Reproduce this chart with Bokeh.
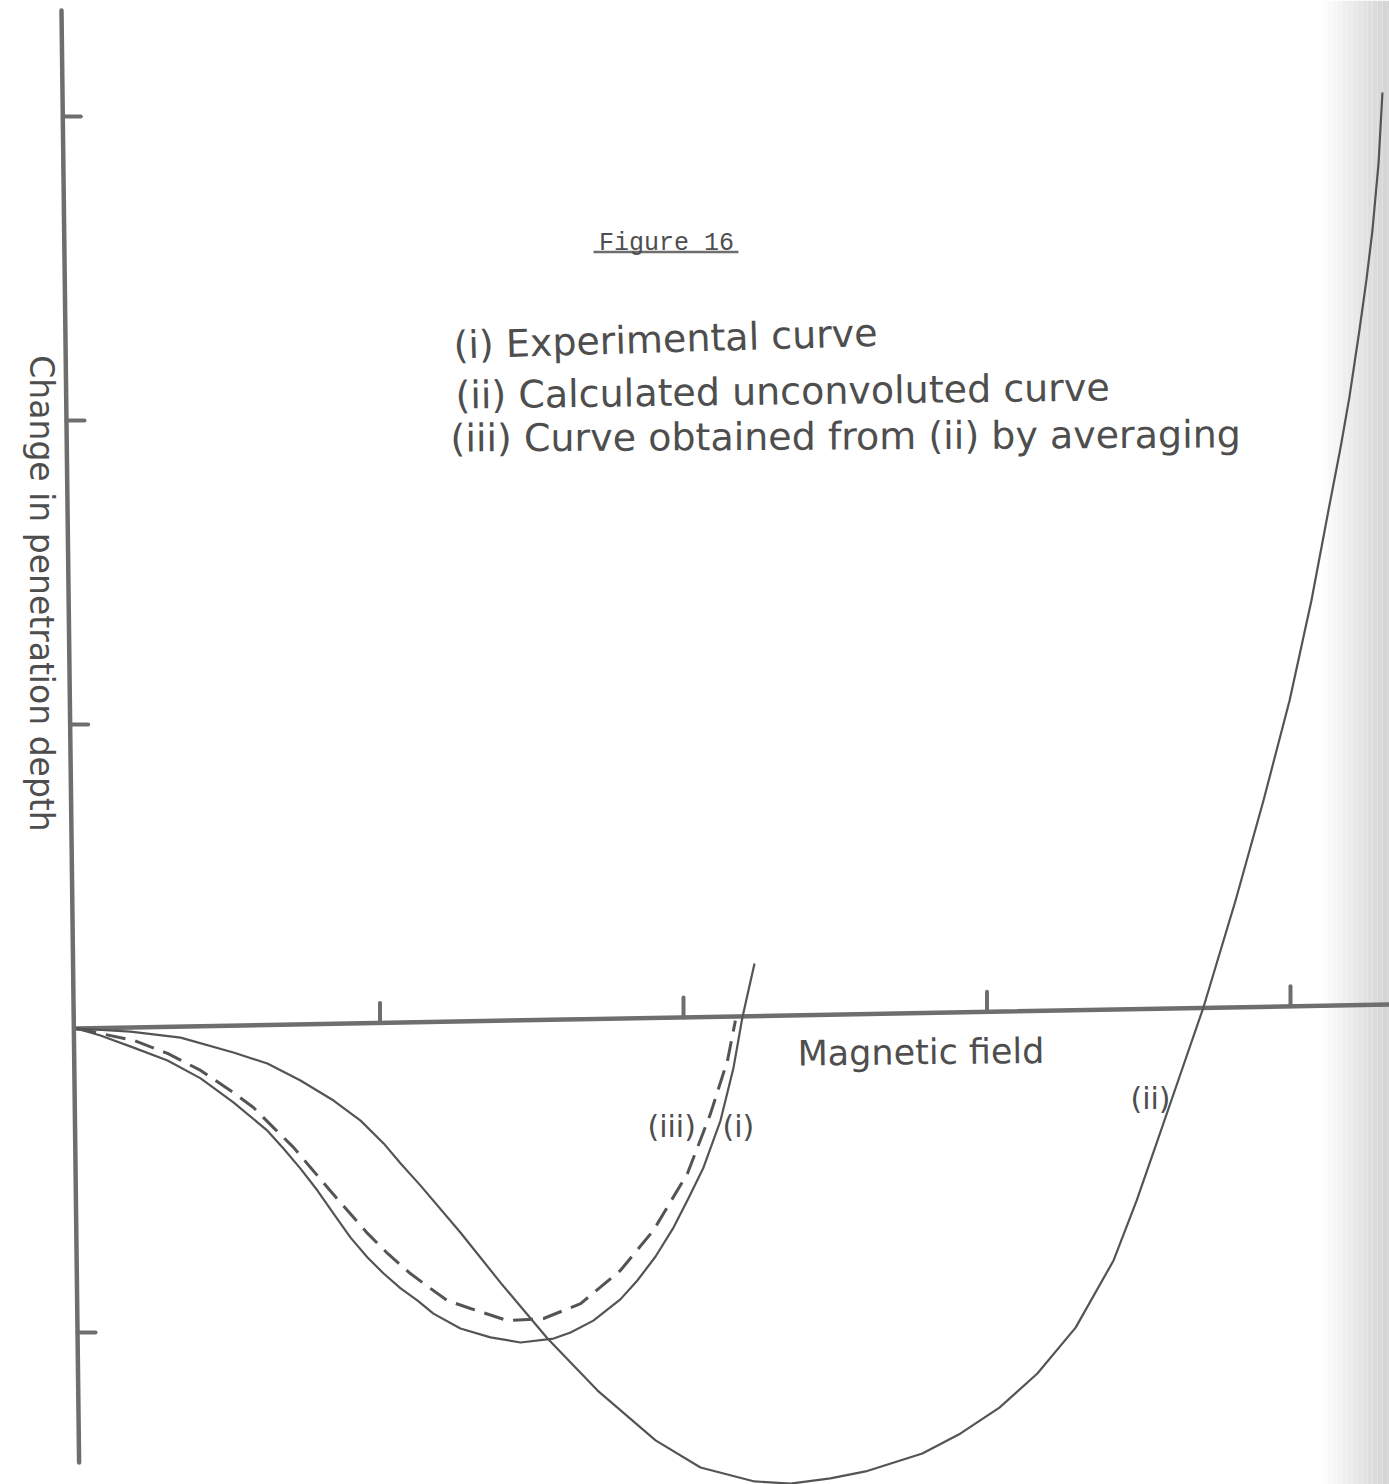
import numpy as np
from bokeh.plotting import figure
from bokeh.models import Range1d, Label
from bokeh.embed import file_html
from bokeh.resources import INLINE

# ---------------- data (axis units: 1 unit = one tick spacing) ----------------
# (i) Experimental curve
field_i = [0.0, 0.079, 0.188, 0.300, 0.409, 0.517, 0.629, 0.682, 0.738, 0.794,
           0.847, 0.903, 0.959, 1.012, 1.068, 1.124, 1.176, 1.265, 1.364, 1.463,
           1.572, 1.628, 1.703, 1.792, 1.848, 1.908, 1.967, 2.016, 2.066, 2.122,
           2.165, 2.194, 2.234]
depth_i = [0.0, -0.023, -0.063, -0.105, -0.164, -0.243, -0.336, -0.395, -0.461, -0.533,
           -0.609, -0.688, -0.753, -0.806, -0.855, -0.895, -0.938, -0.987, -1.016, -1.033,
           -1.020, -1.000, -0.961, -0.891, -0.829, -0.750, -0.655, -0.559, -0.457, -0.303,
           -0.128, 0.036, 0.214]

# (ii) Calculated unconvoluted curve
field_ii = [0.0, 0.178, 0.343, 0.517, 0.629, 0.738, 0.847, 0.936, 1.012, 1.068,
            1.133, 1.265, 1.397, 1.552, 1.717, 1.908, 2.056, 2.234, 2.353, 2.484,
            2.600, 2.787, 2.913, 3.041, 3.166, 3.292, 3.417, 3.493, 3.562, 3.638,
            3.713, 3.819, 3.911, 3.997, 4.069, 4.125, 4.165, 4.194, 4.227, 4.250,
            4.270, 4.290, 4.303]
depth_ii = [0.0, -0.010, -0.030, -0.079, -0.115, -0.171, -0.237, -0.303, -0.378, -0.444,
            -0.516, -0.671, -0.836, -1.020, -1.191, -1.355, -1.444, -1.490, -1.497, -1.480,
            -1.457, -1.398, -1.332, -1.247, -1.135, -0.984, -0.763, -0.566, -0.368, -0.148,
            0.069, 0.421, 0.750, 1.079, 1.408, 1.704, 1.911, 2.076, 2.296, 2.461,
            2.625, 2.845, 3.079]

# (iii) Curve obtained from (ii) by averaging
field_iii = [0.0, 0.188, 0.300, 0.409, 0.517, 0.583, 0.649, 0.715, 0.771, 0.827,
             0.893, 0.959, 1.025, 1.100, 1.166, 1.222, 1.298, 1.420, 1.539, 1.661,
             1.792, 1.901, 2.013, 2.089, 2.145, 2.171]
depth_iii = [0.0, -0.039, -0.082, -0.138, -0.211, -0.260, -0.326, -0.391, -0.457, -0.523,
             -0.599, -0.674, -0.740, -0.806, -0.855, -0.895, -0.921, -0.961, -0.954, -0.905,
             -0.796, -0.664, -0.477, -0.280, -0.105, 0.026]

x_ticks = [1, 2, 3, 4]
y_ticks = [3, 2, 1, -1]

title_text = "Figure 16"
legend_lines = ["(i) Experimental curve",
                "(ii) Calculated unconvoluted curve",
                "(iii) Curve obtained from (ii) by averaging"]
x_label = "Magnetic field"
y_label = "Change in penetration depth"
curve_tags = ["(iii)", "(i)", "(ii)"]

# ---------------- layout (page pixels) ----------------
W, H = 1389, 1484
M = 0
OX, OY = 76.0, 1028.0       # page position of the origin
UX, UY = 303.5, 304.0       # pixels per unit
INK = "#545454"
AXC = "#6e6e6e"
TXT = "#4e4e4e"


def X(px):
    return (px - OX) / UX


def Y(py):
    return (OY - py) / UY


p = figure(width=W, height=H, output_backend="svg", toolbar_location=None,
           x_axis_type=None, y_axis_type=None,
           x_range=Range1d(X(M), X(M + W)), y_range=Range1d(Y(M + H), Y(M)),
           min_border=0, min_border_left=0, min_border_right=0,
           min_border_top=0, min_border_bottom=0)
p.outline_line_color = None
p.background_fill_color = "white"
p.border_fill_color = "white"

# scan shading at the right edge
band_edges = np.linspace(1322, 1392, 15)
band_cols = np.linspace(253, 210, 14)
for i in range(14):
    c = int(band_cols[i])
    p.quad(left=X(band_edges[i]), right=X(band_edges[i + 1]), bottom=Y(M + H), top=Y(M),
           fill_color=(c, c, c), line_color=None)

# axes (slightly skewed as on the scanned sheet)
H_TILT = 24.0 / 1313.0
V_TILT = 17.6 / 1452.0
p.line([X(OX), X(1389)], [Y(OY), Y(OY - H_TILT * (1389 - OX))],
       line_color=AXC, line_width=4.5, line_cap="round")
p.line([X(61), X(61 + V_TILT * 1452)], [Y(10), Y(1462)],
       line_color=AXC, line_width=4.5, line_cap="round")

for t in x_ticks:
    px = OX + t * UX
    base = OY - H_TILT * (px - OX)
    p.line([t, t], [Y(base), Y(base - 20)], line_color=AXC, line_width=4, line_cap="round")
for t in y_ticks:
    py = OY - t * UY
    ax = 61 + V_TILT * (py - 10)
    p.line([X(ax), X(ax + 18)], [t, t], line_color=AXC, line_width=4, line_cap="round")

# curves
p.line(field_ii, depth_ii, line_color=INK, line_width=2.2, line_join="round")
p.line(field_i, depth_i, line_color=INK, line_width=2.2, line_join="round")
p.line(field_iii, depth_iii, line_color=INK, line_width=3, line_dash="20 10",
       line_join="round")

# texts
FONT = "DejaVu Sans"
p.add_layout(Label(x=X(666), y=Y(243), text=title_text, text_font="Liberation Mono",
                   text_font_size="25px", text_color=TXT, text_align="center",
                   text_baseline="alphabetic"))
p.line([X(593), X(738)], [Y(251.5), Y(251.5)], line_color=AXC, line_width=2.5)

leg_pos = [(453, 345, 1.7), (455, 395, 0.7), (450, 438, 0.3)]
for txt, (lx, ly, ang) in zip(legend_lines, leg_pos):
    p.add_layout(Label(x=X(lx), y=Y(ly), text=txt, text_font=FONT, text_font_size="38px",
                       text_color=TXT, text_align="left", text_baseline="alphabetic",
                       angle=np.deg2rad(ang)))

p.add_layout(Label(x=X(797), y=Y(1053), text=x_label, text_font=FONT, text_font_size="35px",
                   text_color=TXT, text_align="left", text_baseline="alphabetic",
                   angle=np.deg2rad(0.6)))
p.add_layout(Label(x=X(41), y=Y(593), text=y_label, text_font=FONT, text_font_size="33px",
                   text_color=TXT, text_align="center", text_baseline="middle",
                   angle=-np.pi / 2))

tag_pos = [(647, 1126), (722, 1126), (1130, 1098)]
for txt, (tx, ty) in zip(curve_tags, tag_pos):
    p.add_layout(Label(x=X(tx), y=Y(ty), text=txt, text_font=FONT, text_font_size="30px",
                       text_color=TXT, text_align="left", text_baseline="alphabetic"))

open("out.html", "w").write(file_html(p, INLINE))
